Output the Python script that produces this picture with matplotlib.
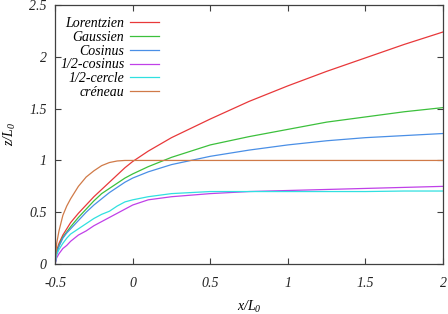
import numpy as np
import matplotlib
matplotlib.use('Agg')
import matplotlib.pyplot as plt

plt.rcParams['font.family'] = ['Liberation Serif', 'DejaVu Serif']
plt.rcParams['font.style'] = 'italic'
plt.rcParams['mathtext.fontset'] = 'custom'
plt.rcParams['mathtext.it'] = 'Liberation Serif:italic'
plt.rcParams['mathtext.rm'] = 'Liberation Serif:italic'

# x/L0 sample positions
x = [-0.5, -0.49, -0.475, -0.45, -0.425, -0.4, -0.35, -0.3, -0.25, -0.2, -0.15,
     -0.1, -0.05, 0.0, 0.1, 0.25, 0.5, 0.75, 1.0, 1.25, 1.5, 1.75, 2.0]

lorentzien = [0, 0.13, 0.20, 0.28, 0.34, 0.40, 0.49, 0.57, 0.65, 0.72, 0.79,
              0.86, 0.93, 0.99, 1.09, 1.22, 1.40, 1.57, 1.72, 1.86, 1.99, 2.12, 2.24]
gaussien = [0, 0.11, 0.18, 0.26, 0.31, 0.36, 0.45, 0.53, 0.61, 0.68, 0.73,
            0.78, 0.83, 0.87, 0.94, 1.03, 1.15, 1.23, 1.30, 1.37, 1.42, 1.47, 1.51]
cosinus = [0, 0.10, 0.17, 0.25, 0.30, 0.34, 0.42, 0.50, 0.57, 0.63, 0.69,
           0.74, 0.79, 0.83, 0.89, 0.96, 1.04, 1.10, 1.15, 1.19, 1.22, 1.24, 1.26]
demi_cosinus = [0, 0.06, 0.10, 0.15, 0.18, 0.22, 0.28, 0.32, 0.37, 0.41, 0.45,
                0.49, 0.53, 0.57, 0.62, 0.65, 0.68, 0.70, 0.71, 0.72, 0.73, 0.74, 0.75]
demi_cercle = [0, 0.09, 0.14, 0.20, 0.25, 0.29, 0.34, 0.39, 0.44, 0.48, 0.51,
               0.56, 0.60, 0.62, 0.65, 0.68, 0.70, 0.70, 0.70, 0.70, 0.70, 0.705, 0.705]
creneau = [0, 0.20, 0.32, 0.47, 0.56, 0.63, 0.75, 0.84, 0.90, 0.95, 0.98,
           0.995, 1.0, 1.0, 1.0, 1.0, 1.0, 1.0, 1.0, 1.0, 1.0, 1.0, 1.0]

series = [
    ('Lorentzien', lorentzien, '#e8383a'),
    ('Gaussien', gaussien, '#3cc03c'),
    ('Cosinus', cosinus, '#4a8fe6'),
    ('1/2-cosinus', demi_cosinus, '#c040e8'),
    ('1/2-cercle', demi_cercle, '#30e0e0'),
    ('créneau', creneau, '#d07a48'),
]

fig = plt.figure(figsize=(4.48, 3.14), dpi=100)
ax = fig.add_axes([0.123, 0.159, 0.866, 0.825])

for name, y, c in series:
    ax.plot(x, y, color=c, lw=0.9, label=name)

ax.set_xlim(-0.5, 2)
ax.set_ylim(0, 2.5)
ax.set_xticks([-0.5, 0, 0.5, 1, 1.5, 2])
ax.set_xticklabels(['-0.5', '0', '0.5', '1', '1.5', '2'])
ax.set_yticks([0, 0.5, 1, 1.5, 2, 2.5])
ax.set_yticklabels(['0', '0.5', '1', '1.5', '2', '2.5'])

for s in ax.spines.values():
    s.set_color('#404040')
    s.set_linewidth(0.9)
ax.tick_params(direction='in', top=True, right=True, length=4, width=0.8,
               color='#404040', labelsize=10, labelcolor='#222222')
ax.tick_params(axis='x', pad=9)
ax.tick_params(axis='y', pad=6)

ax.set_xlabel(r'$x/L_0$', fontsize=10, labelpad=7)
ax.set_ylabel(r'$z/L_0$', fontsize=10, labelpad=8)

leg = ax.legend(loc='upper left', bbox_to_anchor=(-0.012, 0.99), markerfirst=False,
                frameon=False, fontsize=10, handlelength=2.1, handletextpad=0.4,
                labelspacing=0.05, borderaxespad=0.3)

fig.savefig('out.png', dpi=100)
